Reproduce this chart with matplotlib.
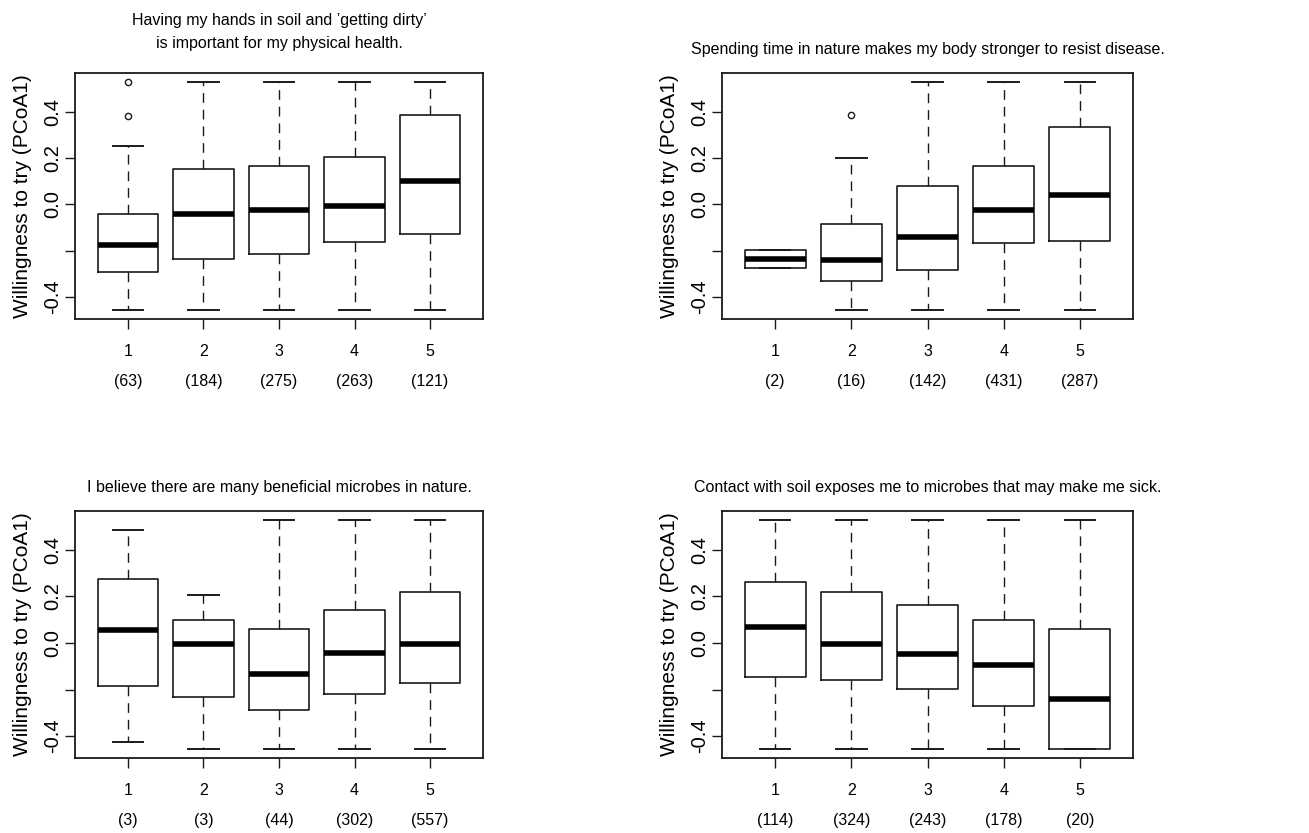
import matplotlib
matplotlib.use("Agg")
import matplotlib.pyplot as plt
from matplotlib import font_manager

# pick a condensed face for horizontal text if there is one
names = {f.name for f in font_manager.fontManager.ttflist}
narrow = "Liberation Sans Narrow" if "Liberation Sans Narrow" in names else "Liberation Sans"
hsize = 13.8 if narrow == "Liberation Sans Narrow" else 11.5
plt.rcParams["font.family"] = ["Liberation Sans", "DejaVu Sans"]

ylabel = "Willingness to try (PCoA1)"
categories = ["1", "2", "3", "4", "5"]

# panel 1
title1 = "Having my hands in soil and \u2019getting dirty\u2019\nis important for my physical health."
n1 = [63, 184, 275, 263, 121]
q1_1 = [-0.291, -0.235, -0.212, -0.162, -0.128]
med1 = [-0.173, -0.040, -0.022, -0.006, 0.100]
q3_1 = [-0.040, 0.152, 0.168, 0.206, 0.387]
lo1 = [-0.456, -0.456, -0.456, -0.456, -0.456]
hi1 = [0.251, 0.529, 0.529, 0.529, 0.529]
fl1 = [[0.529, 0.380], [], [], [], []]

# panel 2
title2 = "Spending time in nature makes my body stronger to resist disease."
n2 = [2, 16, 142, 431, 287]
q1_2 = [-0.274, -0.330, -0.281, -0.168, -0.156]
med2 = [-0.235, -0.241, -0.141, -0.022, 0.039]
q3_2 = [-0.196, -0.085, 0.079, 0.168, 0.336]
lo2 = [-0.274, -0.456, -0.456, -0.456, -0.456]
hi2 = [-0.196, 0.201, 0.529, 0.529, 0.529]
fl2 = [[], [0.386], [], [], []]

# panel 3
title3 = "I believe there are many beneficial microbes in nature."
n3 = [3, 3, 44, 302, 557]
q1_3 = [-0.186, -0.231, -0.287, -0.218, -0.173]
med3 = [0.055, -0.006, -0.135, -0.044, -0.006]
q3_3 = [0.275, 0.100, 0.059, 0.141, 0.218]
lo3 = [-0.427, -0.456, -0.456, -0.456, -0.456]
hi3 = [0.486, 0.206, 0.529, 0.529, 0.529]
fl3 = [[], [], [], [], []]

# panel 4
title4 = "Contact with soil exposes me to microbes that may make me sick."
n4 = [114, 324, 243, 178, 20]
q1_4 = [-0.148, -0.159, -0.198, -0.270, -0.456]
med4 = [0.067, -0.006, -0.046, -0.096, -0.241]
q3_4 = [0.262, 0.218, 0.162, 0.100, 0.059]
lo4 = [-0.456, -0.456, -0.456, -0.456, -0.456]
hi4 = [0.529, 0.529, 0.529, 0.529, 0.529]
fl4 = [[], [], [], [], []]

yticks = [-0.4, -0.2, 0.0, 0.2, 0.4]
yticklabels = ["-0.4", "", "0.0", "0.2", "0.4"]

panels = [
    (title1, n1, q1_1, med1, q3_1, lo1, hi1, fl1),
    (title2, n2, q1_2, med2, q3_2, lo2, hi2, fl2),
    (title3, n3, q1_3, med3, q3_3, lo3, hi3, fl3),
    (title4, n4, q1_4, med4, q3_4, lo4, hi4, fl4),
]

W, H = 1309, 833
fig = plt.figure(figsize=(W / 100, H / 100), dpi=100)
rects = [
    (75 / W, 1 - 319.3 / H, 408 / W, 246.6 / H),
    (721.7 / W, 1 - 319.3 / H, 411.6 / W, 246.6 / H),
    (75 / W, 1 - 758.3 / H, 408 / W, 247.6 / H),
    (721.7 / W, 1 - 758.3 / H, 411.6 / W, 247.6 / H),
]

ink = "#1a1a1a"
for rect, (title, n, q1, med, q3, lo, hi, fl) in zip(rects, panels):
    ax = fig.add_axes(rect)
    stats = []
    for i in range(len(categories)):
        stats.append(dict(med=med[i], q1=q1[i], q3=q3[i],
                          whislo=lo[i], whishi=hi[i], fliers=fl[i]))
    pos = list(range(1, len(categories) + 1))
    ax.bxp(stats, positions=pos, widths=0.8, showfliers=True,
           boxprops=dict(color=ink, linewidth=1.2),
           medianprops=dict(color="black", linewidth=4, solid_capstyle="butt"),
           whiskerprops=dict(color=ink, linewidth=1.0, linestyle=(0, (7, 5))),
           capprops=dict(color=ink, linewidth=1.4),
           flierprops=dict(marker="o", markersize=4.5, markerfacecolor="none",
                           markeredgecolor=ink, markeredgewidth=1.0))
    allv = lo + hi + sum(fl, [])
    vmin, vmax = min(allv), max(allv)
    pad = 0.04 * (vmax - vmin)
    ax.set_ylim(vmin - pad, vmax + pad)
    ax.set_xlim(0.5 - 0.2, len(categories) + 0.5 + 0.2)

    ax.set_xticks(pos)
    ax.set_xticklabels([f"{c}\n({k})" for c, k in zip(categories, n)],
                       fontfamily=narrow, fontsize=hsize, linespacing=2.2)
    ax.set_yticks(yticks)
    ax.set_yticklabels(yticklabels, rotation=90, va="center", fontsize=14.5)
    ax.tick_params(axis="both", direction="out", length=7, width=1.0, color=ink)
    ax.tick_params(axis="x", pad=11)
    ax.tick_params(axis="y", pad=2)
    ax.set_ylabel(ylabel, fontsize=15, labelpad=8)
    tpad = 18 if "\n" in title else 13.5
    ax.set_title(title, fontfamily=narrow, fontsize=hsize, pad=tpad, linespacing=1.65)
    for s in ax.spines.values():
        s.set_color(ink)
        s.set_linewidth(1.3)

fig.savefig("out.png", dpi=100)
